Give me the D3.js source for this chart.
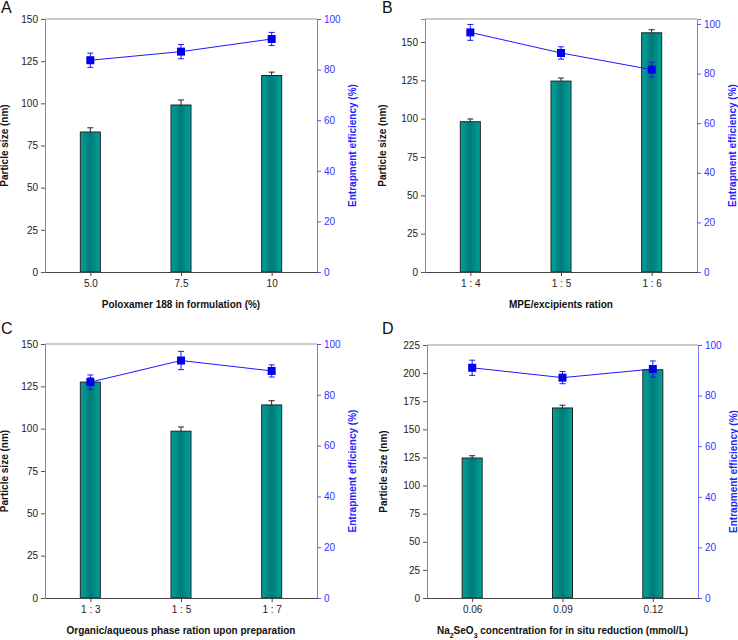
<!DOCTYPE html>
<html>
<head>
<meta charset="utf-8">
<script src="https://cdn.jsdelivr.net/npm/d3@7"></script>
<style>
  body { margin: 0; background: #fff; }
  text { font-family: "Liberation Sans", Arial, sans-serif; }
</style>
</head>
<body>
<svg id="chart" width="738" height="640"></svg>
<script>
// panel A
const catsA = ["5.0", "7.5", "10"];
const sizeA = [83, 99, 116.5];
const sizeErrA = [2.5, 3, 2];
const eeA = [83.7, 87.1, 92.1];
const eeErrA = [2.8, 2.8, 2.6];
// panel B
const catsB = ["1 : 4", "1 : 5", "1 : 6"];
const sizeB = [98, 124.5, 156];
const sizeErrB = [1.8, 2, 2];
const eeB = [96.6, 88.3, 81.6];
const eeErrB = [3.2, 2.5, 3];
// panel C
const catsC = ["1 : 3", "1 : 5", "1 : 7"];
const sizeC = [127.5, 98.5, 114];
const sizeErrC = [2.5, 2.5, 2.5];
const eeC = [85, 93.5, 89.4];
const eeErrC = [2.8, 3.6, 2.4];
// panel D
const catsD = ["0.06", "0.09", "0.12"];
const sizeD = [124.5, 169, 203];
const sizeErrD = [2, 2.5, 0];
const eeD = [91, 87.1, 90.5];
const eeErrD = [3, 2.4, 3.2];

const svg = d3.select("#chart");

const defs = svg.append("defs");
const grad = defs.append("linearGradient").attr("id", "barGrad")
    .attr("x1", "0%").attr("x2", "100%").attr("y1", "0%").attr("y2", "0%");
grad.append("stop").attr("offset", "0%").attr("stop-color", "#00a29c");
grad.append("stop").attr("offset", "50%").attr("stop-color", "#007b78");
grad.append("stop").attr("offset", "100%").attr("stop-color", "#00a29c");

function drawPanel(cfg) {
    const g = svg.append("g").attr("transform", `translate(${cfg.x},${cfg.y})`);
    const w = cfg.w, h = cfg.h;

    const xScale = d3.scalePoint().domain(cfg.cats).range([0, w]).padding(0.5);
    const yScale = d3.scaleLinear().domain([0, cfg.yMax]).range([h, 0]);
    const y2Scale = d3.scaleLinear().domain([0, cfg.y2Max]).range([h, 0]);

    // top frame
    g.append("line").attr("x1", 0).attr("x2", w).attr("y1", 0).attr("y2", 0)
        .attr("stroke", "#999").attr("stroke-width", 1);

    // bars
    const barW = 20;
    g.selectAll("rect.bar")
        .data(cfg.size)
        .join("rect")
        .attr("class", "bar")
        .attr("x", (d, i) => xScale(cfg.cats[i]) - barW / 2)
        .attr("y", d => yScale(d))
        .attr("width", barW)
        .attr("height", d => h - yScale(d))
        .attr("fill", "url(#barGrad)")
        .attr("stroke", "#222")
        .attr("stroke-width", 1);

    // bar error bars (upper only)
    const be = g.append("g");
    cfg.size.forEach((d, i) => {
        if (!cfg.sizeErr[i]) return;
        const cx = xScale(cfg.cats[i]);
        be.append("line").attr("x1", cx).attr("x2", cx)
            .attr("y1", yScale(d)).attr("y2", yScale(d + cfg.sizeErr[i]))
            .attr("stroke", "#222");
        be.append("line").attr("x1", cx - 3).attr("x2", cx + 3)
            .attr("y1", yScale(d + cfg.sizeErr[i])).attr("y2", yScale(d + cfg.sizeErr[i]))
            .attr("stroke", "#222");
    });

    // line
    const line = d3.line()
        .x((d, i) => xScale(cfg.cats[i]))
        .y(d => y2Scale(d));
    g.append("path").datum(cfg.ee)
        .attr("d", line)
        .attr("fill", "none")
        .attr("stroke", "#1a1aff")
        .attr("stroke-width", 1);

    const ee = g.append("g");
    cfg.ee.forEach((d, i) => {
        const cx = xScale(cfg.cats[i]);
        const lo = y2Scale(d - cfg.eeErr[i]), hi = y2Scale(d + cfg.eeErr[i]);
        ee.append("line").attr("x1", cx).attr("x2", cx).attr("y1", lo).attr("y2", hi)
            .attr("stroke", "#1a1aff");
        [lo, hi].forEach(yy => {
            ee.append("line").attr("x1", cx - 3).attr("x2", cx + 3).attr("y1", yy).attr("y2", yy)
                .attr("stroke", "#1a1aff");
        });
    });
    g.selectAll("rect.pt")
        .data(cfg.ee)
        .join("rect")
        .attr("class", "pt")
        .attr("x", (d, i) => xScale(cfg.cats[i]) - 4)
        .attr("y", d => y2Scale(d) - 4)
        .attr("width", 8)
        .attr("height", 8)
        .attr("fill", "#0000ee");

    // axes
    const yAxis = d3.axisLeft(yScale).tickValues(cfg.yTicks).tickSize(4).tickPadding(3);
    const yG = g.append("g").call(yAxis);
    yG.select(".domain").attr("stroke", "#888");
    yG.selectAll(".tick line").attr("stroke", "#555");
    yG.selectAll("text").attr("font-size", 10).attr("fill", "#222");

    const y2Axis = d3.axisRight(y2Scale).tickValues(d3.range(0, 101, 20)).tickSize(4).tickPadding(3);
    const y2G = g.append("g").attr("transform", `translate(${w},0)`).call(y2Axis);
    y2G.select(".domain").attr("stroke", "#7777ff");
    y2G.selectAll(".tick line").attr("stroke", "#5555ff");
    y2G.selectAll("text").attr("font-size", 10).attr("fill", "#3333ff");

    const xAxis = d3.axisBottom(xScale).tickSize(4).tickPadding(4).tickSizeOuter(0);
    const xG = g.append("g").attr("transform", `translate(0,${h})`).call(xAxis);
    xG.select(".domain").attr("stroke", "#444");
    xG.selectAll(".tick line").attr("stroke", "#444");
    xG.selectAll("text").attr("font-size", 10).attr("fill", "#222");

    // axis titles
    g.append("text")
        .attr("transform", `translate(${cfg.yTitleX},${h / 2}) rotate(-90)`)
        .attr("text-anchor", "middle")
        .attr("font-size", 10).attr("font-weight", "bold").attr("fill", "#111")
        .text("Particle size (nm)");
    g.append("text")
        .attr("transform", `translate(${w + 39},${h / 2}) rotate(-90)`)
        .attr("text-anchor", "middle")
        .attr("font-size", 10).attr("font-weight", "bold").attr("fill", "#2222ff")
        .text("Entrapment efficiency (%)");

    const xt = g.append("text")
        .attr("x", w / 2).attr("y", h + 36)
        .attr("text-anchor", "middle")
        .attr("font-size", 10).attr("font-weight", "bold").attr("fill", "#111");
    cfg.xTitle.forEach(part => {
        const t = xt.append("tspan").text(part.t);
        if (part.sub) t.attr("baseline-shift", "sub").attr("font-size", 7);
    });

    // panel letter
    svg.append("text")
        .attr("x", cfg.x + cfg.letterDx).attr("y", cfg.y + cfg.letterDy)
        .attr("font-size", 16).attr("fill", "#111")
        .text(cfg.letter);
}

drawPanel({
    x: 45, y: 19, w: 272, h: 253, letter: "A", letterDx: -44, letterDy: -6,
    cats: catsA, size: sizeA, sizeErr: sizeErrA, ee: eeA, eeErr: eeErrA,
    yMax: 150, yTicks: d3.range(0, 151, 25), y2Max: 100, yTitleX: -37,
    xTitle: [{ t: "Poloxamer 188 in formulation (%)" }]
});
drawPanel({
    x: 425, y: 19, w: 272, h: 253, letter: "B", letterDx: -43, letterDy: -6,
    cats: catsB, size: sizeB, sizeErr: sizeErrB, ee: eeB, eeErr: eeErrB,
    yMax: 165, yTicks: d3.range(0, 151, 25), y2Max: 102, yTitleX: -39,
    xTitle: [{ t: "MPE/excipients ration" }]
});
drawPanel({
    x: 45, y: 344, w: 272, h: 254, letter: "C", letterDx: -44, letterDy: -10,
    cats: catsC, size: sizeC, sizeErr: sizeErrC, ee: eeC, eeErr: eeErrC,
    yMax: 150, yTicks: d3.range(0, 151, 25), y2Max: 100, yTitleX: -37,
    xTitle: [{ t: "Organic/aqueous phase ration upon preparation" }]
});
drawPanel({
    x: 427, y: 345, w: 271, h: 253, letter: "D", letterDx: -45, letterDy: -11,
    cats: catsD, size: sizeD, sizeErr: sizeErrD, ee: eeD, eeErr: eeErrD,
    yMax: 225, yTicks: d3.range(0, 226, 25), y2Max: 100, yTitleX: -40,
    xTitle: [{ t: "Na" }, { t: "2", sub: true }, { t: "SeO" }, { t: "3", sub: true },
             { t: " concentration for in situ reduction (mmol/L)" }]
});
</script>
</body>
</html>
